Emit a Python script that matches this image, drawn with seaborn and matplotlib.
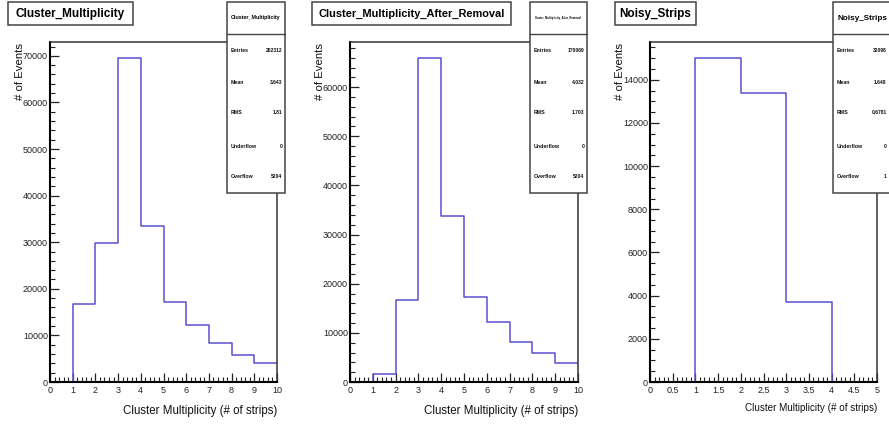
import numpy as np
import pandas as pd
import matplotlib
matplotlib.use("Agg")
import matplotlib.pyplot as plt
import seaborn as sns
from matplotlib.patches import Rectangle
from matplotlib.lines import Line2D
from matplotlib.ticker import MultipleLocator, FuncFormatter

# ---- histogram contents (per-bin counts) ----
mult_edges = [0, 1, 2, 3, 4, 5, 6, 7, 8, 9, 10]
mult_counts = [0, 16700, 29800, 69500, 33500, 17100, 12200, 8300, 5800, 4000]

after_edges = [0, 1, 2, 3, 4, 5, 6, 7, 8, 9, 10]
after_counts = [0, 1700, 16600, 65900, 33800, 17200, 12200, 8200, 5850, 3950]

noisy_edges = [0, 1, 2, 3, 4, 5]
noisy_counts = [0, 15000, 13400, 3700, 0]

titles = ["Cluster_Multiplicity", "Cluster_Multiplicity_After_Removal", "Noisy_Strips"]
stat_names = ["Entries", "Mean", "RMS", "Underflow", "Overflow"]
stat_values = [
    ["202312", "3.643", "1.81", "0", "5204"],
    ["170069", "4.032", "1.703", "0", "5204"],
    ["32098", "1.648", "0.6781", "0", "1"],
]
x_label = "Cluster Multiplicity (# of strips)"
y_label = "# of Events"

W, H = 889, 425
sns.set_theme(style="white")
plt.rcParams["font.family"] = ["Liberation Sans", "DejaVu Sans"]

fig = plt.figure(figsize=(W / 100, H / 100), dpi=100)
fig.patch.set_facecolor("white")

LINE = "#5b50d2"
EDGE = "#444444"


def fx(x):
    return x / W


def fy(y):
    return 1 - y / H


panels = [
    dict(edges=mult_edges, counts=mult_counts, ax=(50, 42, 277, 382),
         tbox=(8, 2, 133, 25), sbox=(227, 2, 285, 193), tsize=8.5,
         xmaj=1, xmin=0.2, ymaj=10000, ymin=2000, xl_size=8.3, head=3.9),
    dict(edges=after_edges, counts=after_counts, ax=(350, 42, 578, 382),
         tbox=(312, 2, 511, 25), sbox=(530, 2, 587, 193), tsize=7.9,
         xmaj=1, xmin=0.2, ymaj=10000, ymin=2000, xl_size=8.3, head=2.0),
    dict(edges=noisy_edges, counts=noisy_counts, ax=(650, 42, 877, 382),
         tbox=(615, 2, 696, 25), sbox=(833, 2, 892, 193), tsize=8.5,
         xmaj=0.5, xmin=0.1, ymaj=2000, ymin=500, xl_size=7.1, head=5.9),
]

for i, p in enumerate(panels):
    l, t, r, b = p["ax"]
    ax = fig.add_axes([fx(l), fy(b), fx(r) - fx(l), (b - t) / H])
    ax.set_facecolor("white")

    edges = [float(e) for e in p["edges"]]
    centers = [(a + c) / 2 for a, c in zip(edges[:-1], edges[1:])]
    df = pd.DataFrame({"x": centers, "w": p["counts"]})
    sns.histplot(data=df, x="x", weights="w", bins=edges, element="step",
                 fill=False, color=LINE, linewidth=1.1, ax=ax)

    ax.set_xlim(edges[0], edges[-1])
    ax.set_ylim(0, max(p["counts"]) * 1.05)
    ax.set_xlabel("")
    ax.set_ylabel("")

    ax.xaxis.set_major_locator(MultipleLocator(p["xmaj"]))
    ax.xaxis.set_minor_locator(MultipleLocator(p["xmin"]))
    ax.yaxis.set_major_locator(MultipleLocator(p["ymaj"]))
    ax.yaxis.set_minor_locator(MultipleLocator(p["ymin"]))
    ax.xaxis.set_major_formatter(FuncFormatter(lambda v, _: f"{v:g}"))
    ax.yaxis.set_major_formatter(FuncFormatter(lambda v, _: f"{v:.0f}"))

    ax.tick_params(axis="both", which="both", direction="in", colors="#222222",
                   labelsize=6.5, top=False, right=False, bottom=True, left=True)
    ax.tick_params(axis="both", which="major", length=6.5, width=0.9)
    ax.tick_params(axis="both", which="minor", length=3.3, width=0.8)
    ax.tick_params(axis="x", which="major", pad=3)
    ax.tick_params(axis="y", which="major", pad=1.5)

    for side in ("left", "bottom"):
        ax.spines[side].set_color("black")
        ax.spines[side].set_linewidth(1.5)
    for side in ("top", "right"):
        ax.spines[side].set_color("#333333")
        ax.spines[side].set_linewidth(1.1)

    # axis titles
    fig.text(fx(l - 30), fy(43), y_label, rotation=90, ha="center", va="top",
             fontsize=8.2, color="#111111")
    fig.text(fx(r), fy(411 if i < 2 else 408), x_label, ha="right", va="center",
             fontsize=p["xl_size"], color="#111111")

    # title box
    x0, y0, x1, y1 = p["tbox"]
    fig.patches.append(Rectangle((fx(x0), fy(y1)), fx(x1) - fx(x0), (y1 - y0) / H,
                                 transform=fig.transFigure, facecolor="white",
                                 edgecolor=EDGE, linewidth=1.1, zorder=5))
    fig.text(fx((x0 + x1) / 2), fy((y0 + y1) / 2 + 0.5), titles[i], ha="center",
             va="center", fontsize=p["tsize"], fontweight="bold", color="black",
             zorder=6)

    # statistics box
    x0, y0, x1, y1 = p["sbox"]
    fig.patches.append(Rectangle((fx(x0), fy(y1)), fx(x1) - fx(x0), (y1 - y0) / H,
                                 transform=fig.transFigure, facecolor="white",
                                 edgecolor=EDGE, linewidth=1.1, zorder=5))
    fig.lines.append(Line2D([fx(x0), fx(x1)], [fy(34), fy(34)],
                            transform=fig.transFigure, color=EDGE,
                            linewidth=1.0, zorder=6))
    fig.text(fx((x0 + x1) / 2), fy(18), titles[i], ha="center", va="center",
             fontsize=p["head"], fontweight="bold", color="black", zorder=7)
    for k, (name, val) in enumerate(zip(stat_names, stat_values[i])):
        yy = [50, 82, 113, 146, 177][k]
        fig.text(fx(x0 + 4), fy(yy), name, ha="left", va="center",
                 fontsize=3.8, fontweight="bold", color="#111111", zorder=7)
        fig.text(fx(min(x1, 889) - 2.5), fy(yy), val, ha="right", va="center",
                 fontsize=3.6, fontweight="bold", color="#111111", zorder=7)

fig.savefig("out.png", dpi=100)
